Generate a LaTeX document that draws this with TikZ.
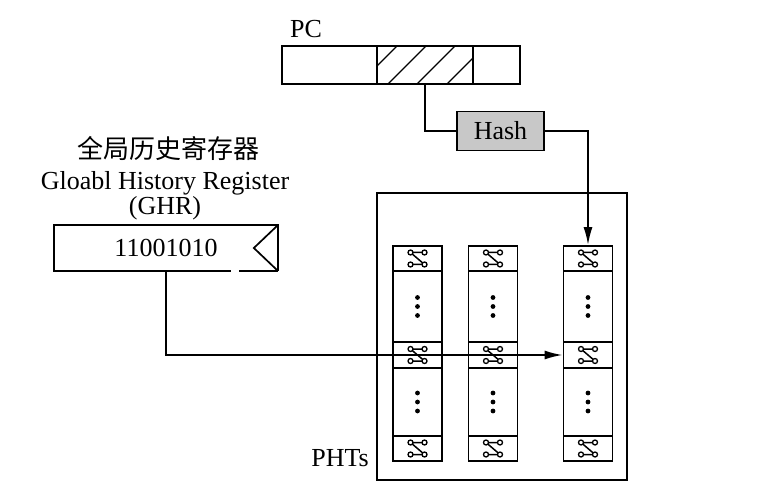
\documentclass[tikz,border=0pt]{standalone}
\usepackage{fontspec}
\setmainfont{Liberation Serif}
\newfontfamily\cjk{Noto Sans CJK SC}
\usepackage{tikz}
\usetikzlibrary{arrows.meta,positioning}
\definecolor{hashgray}{RGB}{200,200,200}

\tikzset{
  ctr/.pic={
    \draw[line width=1.5pt] (-7,-6) -- (7,-6) (-7,-6) -- (7,6) (-7,6) -- (7,6);
    \foreach \px/\py in {-7/-6,7/-6,-7/6,7/6}
      \draw[line width=1.3pt, fill=white] (\px,\py) circle (2.5pt);
  }
}

\begin{document}
\begin{tikzpicture}[x=1pt, y=-1pt,
  line width=1.7pt,
  lbl/.style={font=\fontsize{26}{30}\selectfont, inner sep=0pt},
  reg/.style={draw, minimum height=38pt, inner sep=0pt},
  cell/.style={draw, minimum width=49pt, inner sep=0pt},
  arrow/.style={line width=1.9pt, -{Latex[length=18pt,width=9pt]}}
]
  \useasboundingbox (0,0) rectangle (762,502);

  % PC register
  \node[lbl] (pclabel) at (306,29) {PC};
  \node[reg, minimum width=95pt] (pcl) at (329.5,65) {};
  \node[reg, minimum width=96pt] (pcm) at (425,65) {};
  \node[reg, minimum width=47pt] (pcr) at (496.5,65) {};
  \begin{scope}
    \clip (pcm.south west) rectangle (pcm.north east);
    \foreach \hx in {359,388,417,447}
      \draw[line width=1.2pt] (\hx,84) -- ++(38,-38);
  \end{scope}

  \node[lbl, draw, fill=hashgray, minimum width=87pt, minimum height=39pt] (hash) at (500.5,131) {Hash};

  % global history register
  \node[lbl] (ghrcn) at (168,148) {\cjk 全局历史寄存器};
  \node[lbl] (ghren) at (165,183) {Gloabl History Register};
  \node[lbl] (ghrab) at (165,208) {(GHR)};
  \node[lbl, minimum width=222pt, minimum height=44pt] (ghr) at (166,248) {11001010\hspace{2pt}};
  \draw (ghr.south east) -- ++(-39,0) (ghr.south east) -- (ghr.north east) -- (ghr.north west)
        -- (ghr.south west) -- ++(177,0);
  \draw (ghr.north east) -- ([xshift=-24pt]ghr.east) -- (ghr.south east);

  % pattern history tables
  \node[draw, minimum width=250pt, minimum height=287pt] (pht) at (502,336.5) {};
  \node[lbl] (phtlabel) at (340,458) {PHTs};
  \foreach \col/\cx in {1/417.5,2/493,3/588} {
    \node[cell, minimum height=25pt] (c\col a) at (\cx,258.5) {};
    \node[cell, minimum height=71pt] (c\col m) at (\cx,306.5) {};
    \node[cell, minimum height=26pt] (c\col b) at (\cx,355) {};
    \node[cell, minimum height=68pt] (c\col n) at (\cx,402) {};
    \node[cell, minimum height=25pt] (c\col c) at (\cx,448.5) {};
    \foreach \row in {a,b,c}
      \pic at (c\col\row) {ctr};
    \foreach \dy in {-9,0,9} {
      \fill ([yshift=-\dy pt]c\col m.center) circle (2.4pt);
      \fill ([yshift=-\dy pt]c\col n.center) circle (2.4pt);
    }
  }

  \draw (pcm.south) |- (hash.west);
  \draw[arrow] (hash.east) -| (c3a.north);
  \draw[arrow] (ghr.south) |- (c3b.west);
\end{tikzpicture}
\end{document}
